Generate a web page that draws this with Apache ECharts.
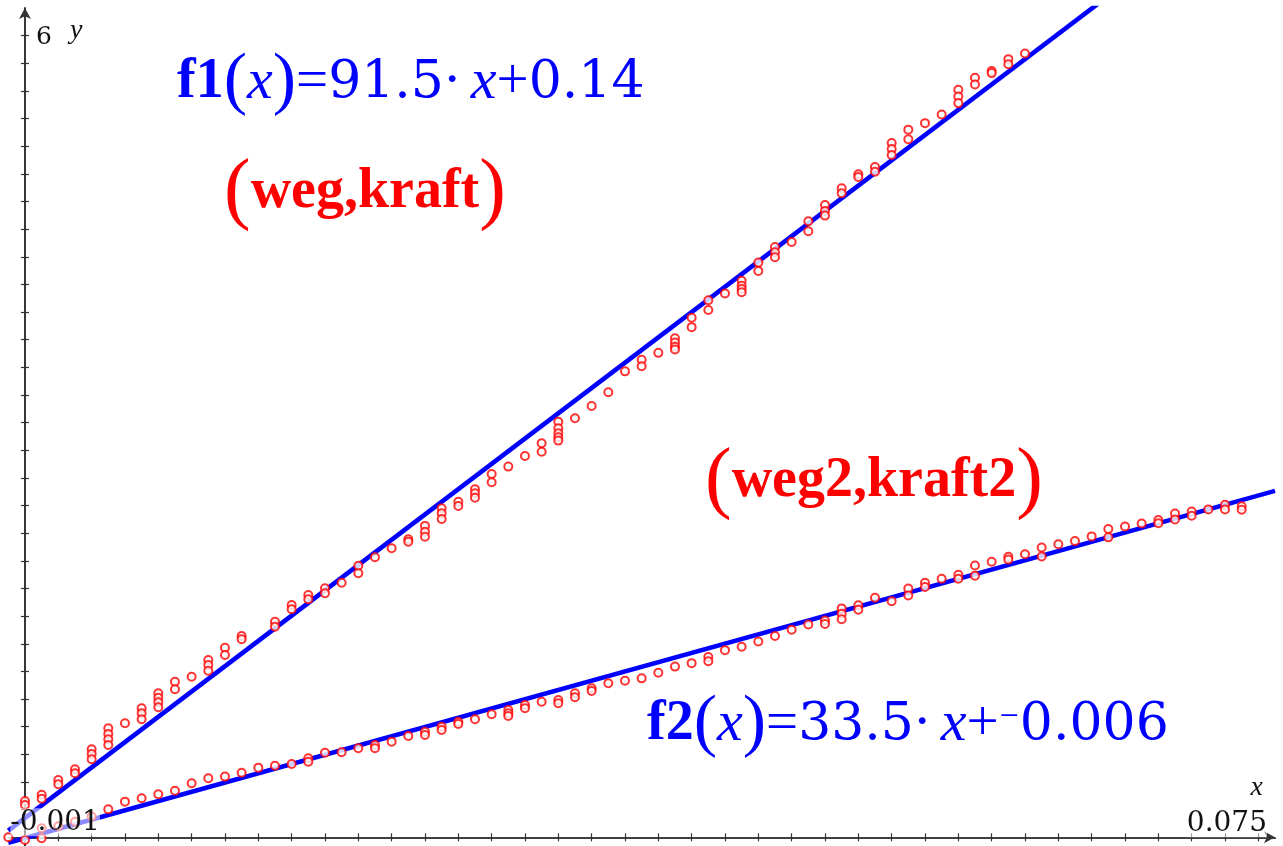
<!DOCTYPE html>
<html><head><meta charset="utf-8">
<script src="https://cdn.jsdelivr.net/npm/echarts@6/dist/echarts.min.js"></script>
<style>html,body{margin:0;padding:0;background:#fff}#c{width:1283px;height:846px}</style>
</head><body><div id="c"></div>
<script>
// ---- data: (weg, kraft) ----
const weg = [
 0.000,0.000, 0.001,0.001, 0.002,0.002, 0.003,0.003,
 0.004,0.004,0.004, 0.005,0.005,0.005,0.005, 0.006,
 0.007,0.007,0.007, 0.008,0.008,0.008,0.008, 0.009,0.009, 0.010,
 0.011,0.011,0.011, 0.012,0.012, 0.013,0.013, 0.015,0.015, 0.016,0.016,
 0.017,0.017, 0.018,0.018, 0.019, 0.020,0.020, 0.021, 0.022, 0.023,0.023,
 0.024,0.024,0.024, 0.025,0.025,0.025, 0.026,0.026, 0.027,0.027,0.027,
 0.028,0.028, 0.029, 0.030, 0.031,0.031, 0.032,0.032,0.032,0.032,0.032,
 0.033, 0.034, 0.035, 0.036, 0.037,0.037, 0.038, 0.039,0.039,0.039,0.039,
 0.040,0.040, 0.041,0.041, 0.042, 0.043,0.043,0.043,0.043, 0.044,0.044,
 0.045,0.045,0.045, 0.046, 0.047,0.047, 0.048,0.048,0.048, 0.049,0.049,
 0.050,0.050, 0.051,0.051, 0.052,0.052,0.052, 0.053,0.053, 0.054, 0.055,
 0.056,0.056,0.056, 0.057,0.057, 0.058,0.058, 0.059,0.059, 0.060
];
const kraft = [
 0.263,0.234, 0.308,0.279, 0.415,0.384, 0.492,0.463,
 0.637,0.603,0.564, 0.789,0.747,0.709,0.668, 0.825,
 0.933,0.897,0.854, 1.042,1.010,0.977,0.941, 1.126,1.071, 1.162,
 1.283,1.247,1.205, 1.372,1.319, 1.457,1.433, 1.560,1.524, 1.681,1.650,
 1.753,1.722, 1.802,1.766, 1.842, 1.965,1.910, 2.026, 2.091, 2.156,2.139,
 2.253,2.211,2.175, 2.381,2.344,2.303, 2.428,2.397, 2.518,2.489,2.457,
 2.629,2.569, 2.682, 2.759, 2.851,2.790, 3.007,2.959,2.923,2.894,2.870,
 3.032, 3.121, 3.220, 3.371, 3.455,3.408, 3.505, 3.610,3.580,3.550,3.530,
 3.759,3.691, 3.886,3.815, 3.935, 4.027,3.991,3.967,3.943, 4.158,4.098,
 4.270,4.233,4.197, 4.307, 4.457,4.385, 4.575,4.532,4.498, 4.696,4.660,
 4.797,4.778, 4.850,4.815, 5.023,4.980,4.937, 5.120,5.050, 5.167, 5.230,
 5.409,5.360,5.312, 5.495,5.447, 5.544,5.529, 5.630,5.593, 5.671
];
// ---- data: (weg2, kraft2) ----
const weg2 = [
 -0.001, 0.000, 0.001,0.001, 0.002, 0.003, 0.004, 0.005, 0.006, 0.007,
 0.008, 0.009, 0.010, 0.011, 0.012, 0.013, 0.014, 0.015, 0.016,
 0.017,0.017, 0.018, 0.019, 0.020, 0.021,0.021, 0.022, 0.023,
 0.024,0.024, 0.025,0.025, 0.026,0.026, 0.027, 0.028, 0.029,0.029,0.029,
 0.030,0.030, 0.031, 0.032,0.032, 0.033,0.033, 0.034,0.034, 0.035, 0.036,
 0.037, 0.038, 0.039, 0.040, 0.041,0.041, 0.042, 0.043, 0.044, 0.045,
 0.046, 0.047, 0.048,0.048, 0.049,0.049,0.049, 0.050,0.050, 0.051, 0.052,
 0.053,0.053, 0.054,0.054, 0.055, 0.056,0.056, 0.057,0.057, 0.058,
 0.059,0.059, 0.060, 0.061,0.061, 0.062, 0.063, 0.064, 0.065,0.065,
 0.066, 0.067, 0.068,0.068, 0.069,0.069, 0.070,0.070, 0.071, 0.072,0.072,
 0.073,0.073
];
const kraft2 = [
 0.000, -0.020, 0.065,-0.007, 0.080, 0.113, 0.150, 0.203, 0.258, 0.282,
 0.311, 0.337, 0.391, 0.427, 0.439, 0.467, 0.504, 0.518, 0.530,
 0.572,0.547, 0.612, 0.615, 0.644, 0.668,0.644, 0.692, 0.733,
 0.764,0.740, 0.800,0.776, 0.836,0.820, 0.854, 0.890, 0.921,0.897,0.878,
 0.957,0.933, 0.981, 0.993,0.970, 1.042,1.013, 1.078,1.059, 1.114, 1.133,
 1.150, 1.190, 1.235, 1.260, 1.305,1.274, 1.354, 1.378, 1.416, 1.457,
 1.501, 1.540, 1.568,1.543, 1.656,1.617,1.578, 1.679,1.646, 1.733, 1.708,
 1.800,1.749, 1.842,1.811, 1.870, 1.900,1.870, 1.966,1.893, 1.994,
 2.030,2.010, 2.048, 2.097,2.032, 2.120, 2.143, 2.177, 2.230,2.170,
 2.249, 2.270, 2.295,2.272, 2.342,2.300, 2.357,2.326, 2.3725, 2.406,2.372,
 2.395,2.370
];
// ---- regression functions ----
const f1 = { slope: 91.5, intercept: 0.14 };
const f2 = { slope: 33.5, intercept: -0.006 };
// ---- window / ticks ----
const X_MIN = -0.001, X_MAX = 0.075, Y_MIN = -0.063, Y_MAX = 6;
const X_TICK_STEP = 0.002, Y_TICK_STEP = 0.2;
const xLabels = ['-0.001', '0.075'];
const yLabels = ['6'];
const axisNames = ['x', 'y'];

const xTicks = [];
for (let k = 1; k * X_TICK_STEP < X_MAX - 1e-9; k++) xTicks.push(+(k * X_TICK_STEP).toFixed(4));
const yTicks = [];
for (let k = 1; k * Y_TICK_STEP < Y_MAX - 1e-9; k++) yTicks.push(+(k * Y_TICK_STEP).toFixed(4));

const BLUE = '#0000ff', RED = '#ff0000', AX = '#333333';
const axLine = { color: AX, width: 1.7 };

function xAx(inside, arrow) {
  return {
    type: 'value', min: X_MIN, max: X_MAX, position: 'bottom',
    axisLine: { show: true, onZero: true, onZeroAxisIndex: 0, lineStyle: axLine,
      symbol: arrow ? ['none', 'arrow'] : ['none', 'none'], symbolSize: [9, 11] },
    axisTick: { show: true, customValues: xTicks, inside: inside, length: 4, lineStyle: { color: AX, width: 1.2 } },
    axisLabel: { show: false }, splitLine: { show: false }
  };
}
function yAx(inside, arrow) {
  return {
    type: 'value', min: Y_MIN, max: Y_MAX, position: 'left',
    axisLine: { show: true, onZero: true, onZeroAxisIndex: 0, lineStyle: axLine,
      symbol: arrow ? ['none', 'arrow'] : ['none', 'none'], symbolSize: [9, 11] },
    axisTick: { show: true, customValues: yTicks, inside: inside, length: 4, lineStyle: { color: AX, width: 1.2 } },
    axisLabel: { show: false }, splitLine: { show: false }
  };
}

const pts1 = weg.map((w, i) => [w, kraft[i]]);
const pts2 = weg2.map((w, i) => [w, kraft2[i]]);
const line = f => [[X_MIN, f.slope * X_MIN + f.intercept], [X_MAX, f.slope * X_MAX + f.intercept]];

const chart = echarts.init(document.getElementById('c'), null, { renderer: 'canvas' });
chart.setOption({
  animation: false,
  backgroundColor: '#ffffff',
  grid: { left: 8.3, right: 8, top: 8, bottom: 0, containLabel: false },
  xAxis: [xAx(false, true), xAx(true, false)],
  yAxis: [yAx(false, true), yAx(true, false)],
  series: [
    { type: 'line', data: line(f1), showSymbol: false, clip: true, z: 2,
      lineStyle: { color: BLUE, width: 4.6 } },
    { type: 'line', data: line(f2), showSymbol: false, clip: true, z: 2,
      lineStyle: { color: BLUE, width: 4.6 } },
    { type: 'scatter', data: pts1, symbol: 'emptyCircle', symbolSize: 8, z: 3,
      itemStyle: { color: RED, borderColor: RED, borderWidth: 1.5 } },
    { type: 'scatter', data: pts2, symbol: 'emptyCircle', symbolSize: 8, z: 3,
      itemStyle: { color: RED, borderColor: RED, borderWidth: 1.5 } }
  ]
});

const px = (x, y) => chart.convertToPixel({ gridIndex: 0 }, [x, y]);
const o = px(0, 0), lo = px(X_MIN, 0), hi = px(X_MAX, Y_MAX);

const serif = 'DejaVu Serif', lser = 'Liberation Serif';
function tok(family, size, color, extra) {
  return Object.assign({ fontFamily: family, fontSize: size, fill: color, color: color }, extra || {});
}
function formula(name, coef, sup, konst, color) {
  return {
    text: '{b|' + name + '}{p|(}{i|x}{p|)}{o|=}{n|' + coef + '·\u2009}{i|x}{o|+}' +
          (sup ? '{s|\u207B}' : '') + '{n|' + konst + '}',
    rich: {
      b: tok(lser, 56, color, { fontWeight: 'bold' }),
      p: tok(lser, 70, color),
      i: tok(lser, 58, color, { fontStyle: 'italic' }),
      o: tok(lser, 57, color),
      s: tok(serif, 40, color),
      n: tok(serif, 52, color)
    }
  };
}
function pair(inner, color) {
  return {
    text: '{p|(}{b|' + inner + '}{p|)}',
    rich: {
      b: tok(lser, 56, color, { fontWeight: 'bold' }),
      p: tok(lser, 80, color)
    }
  };
}
const t1 = formula('f1', '91.5', false, '0.14', BLUE);
const t2 = formula('f2', '33.5', true, '0.006', BLUE);
const t3 = pair('weg,kraft', RED);
const t4 = pair('weg2,kraft2', RED);

function txt(x, y, s, align, valign) {
  return { type: 'text', x: x, y: y, z: 100,
    style: Object.assign({ align: align, verticalAlign: valign, textAlign: align, textVerticalAlign: valign }, s) };
}
const lblFont = { fontFamily: serif, fontSize: 28, fill: '#111', backgroundColor: 'rgba(255,255,255,0.55)' };

chart.setOption({
  graphic: [
    txt(177, 83, t1, 'left', 'middle'),
    txt(647, 725, t2, 'left', 'middle'),
    txt(224, 193, t3, 'left', 'middle'),
    txt(705, 482, t4, 'left', 'middle'),
    txt(lo[0] + 2, o[1] - 15, Object.assign({ text: xLabels[0] }, lblFont), 'left', 'middle'),
    txt(hi[0] - 8, o[1] - 14, Object.assign({ text: xLabels[1] }, lblFont), 'right', 'middle'),
    txt(o[0] + 11, hi[1] + 29, { text: yLabels[0], fontFamily: serif, fontSize: 25, fill: '#111' }, 'left', 'middle'),
    txt(o[0] + 45, hi[1] + 23, { text: axisNames[1], fontFamily: lser, fontStyle: 'italic', fontSize: 28, fill: '#111' }, 'left', 'middle'),
    txt(hi[0] - 12, o[1] - 50, { text: axisNames[0], fontFamily: lser, fontStyle: 'italic', fontSize: 28, fill: '#111' }, 'right', 'middle')
  ]
});
</script></body></html>
